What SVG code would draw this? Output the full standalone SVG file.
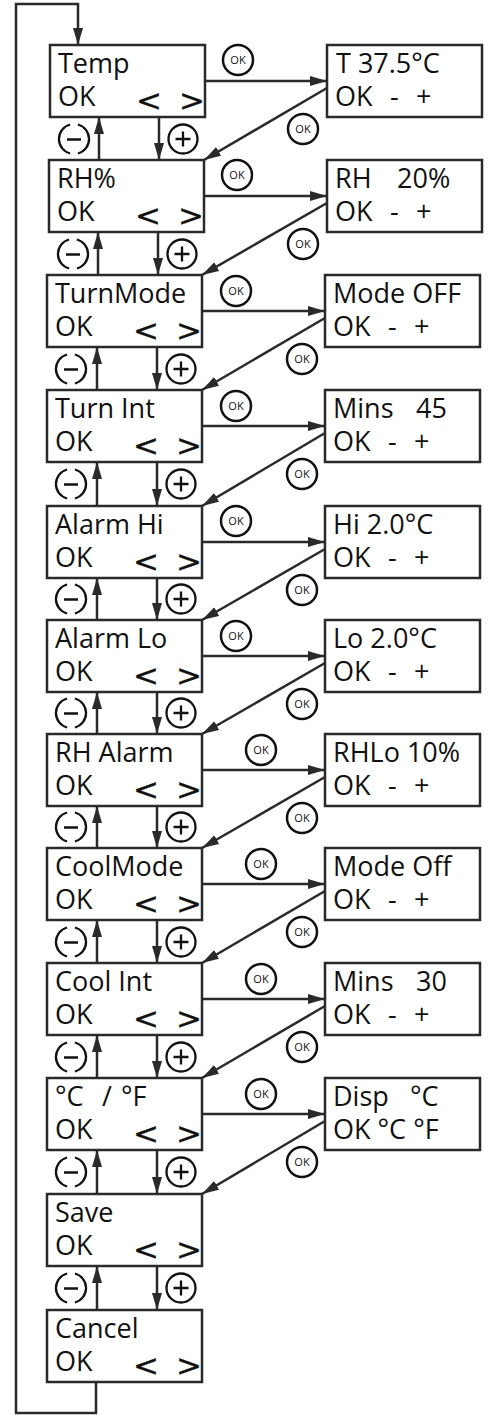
<svg xmlns="http://www.w3.org/2000/svg" xmlns:xlink="http://www.w3.org/1999/xlink" width="500" height="1415" viewBox="0 0 500 1415">
<style>
.box{fill:#fff;stroke:#2a2a2a;stroke-width:2.5}
.ln{fill:none;stroke:#2a2a2a;stroke-width:2.5}
.t{font-family:"Open Sans","Liberation Sans",sans-serif;font-size:27px;fill:#111}
.ar{font-family:"DejaVu Sans","Liberation Sans",sans-serif;font-size:31px;fill:#111;stroke:#111;stroke-width:0.3}
.okc{fill:#fff;stroke:#111;stroke-width:2.5}
.okt{font-family:"Open Sans","Liberation Sans",sans-serif;font-size:11px;fill:#111;text-anchor:middle}
.sym{fill:none;stroke:#111;stroke-width:2.3}
</style>
<defs>
<marker id="ah" markerUnits="userSpaceOnUse" markerWidth="18" markerHeight="11" refX="17" refY="5.5" orient="auto">
<path d="M0,0.5 L17,5.5 L0,10.5 z" fill="#2a2a2a"/>
</marker>
<g id="minus" class="sym"><path d="M-3.9,-14.5 A15,15 0 0 0 -3.9,14.5 M3.9,-14.5 A15,15 0 0 1 3.9,14.5 M-7,0.5 H7"/></g>
<g id="plus" class="sym"><circle cx="0" cy="0" r="14.5"/><path d="M-7.5,0 H7.5 M0,-7.5 V7.5"/></g>
</defs>
<rect width="500" height="1415" fill="#fff"/>

<g id="connectors" class="ln">
<path d="M96,1382 V1413 H16 V4 H78 V45" marker-end="url(#ah)"/>
<line x1="205" y1="81" x2="327" y2="81" marker-end="url(#ah)"/>
<line x1="204" y1="196" x2="327" y2="196" marker-end="url(#ah)"/>
<line x1="202" y1="311" x2="325" y2="311" marker-end="url(#ah)"/>
<line x1="202" y1="426" x2="325" y2="426" marker-end="url(#ah)"/>
<line x1="202" y1="542" x2="325" y2="542" marker-end="url(#ah)"/>
<line x1="202" y1="656" x2="325" y2="656" marker-end="url(#ah)"/>
<line x1="202" y1="770" x2="325" y2="770" marker-end="url(#ah)"/>
<line x1="202" y1="884" x2="325" y2="884" marker-end="url(#ah)"/>
<line x1="202" y1="999" x2="325" y2="999" marker-end="url(#ah)"/>
<line x1="202" y1="1114" x2="325" y2="1114" marker-end="url(#ah)"/>
<line x1="327" y1="88" x2="204" y2="160" marker-end="url(#ah)"/>
<line x1="327" y1="203" x2="202" y2="275" marker-end="url(#ah)"/>
<line x1="325" y1="318" x2="202" y2="390" marker-end="url(#ah)"/>
<line x1="325" y1="433" x2="202" y2="506" marker-end="url(#ah)"/>
<line x1="325" y1="549" x2="202" y2="620" marker-end="url(#ah)"/>
<line x1="325" y1="663" x2="202" y2="734" marker-end="url(#ah)"/>
<line x1="325" y1="777" x2="202" y2="848" marker-end="url(#ah)"/>
<line x1="325" y1="891" x2="202" y2="963" marker-end="url(#ah)"/>
<line x1="325" y1="1006" x2="202" y2="1078" marker-end="url(#ah)"/>
<line x1="325" y1="1121" x2="202" y2="1194" marker-end="url(#ah)"/>
<line x1="99" y1="160" x2="99" y2="117" marker-end="url(#ah)"/>
<line x1="159" y1="117" x2="159" y2="160" marker-end="url(#ah)"/>
<line x1="98" y1="275" x2="98" y2="232" marker-end="url(#ah)"/>
<line x1="158" y1="232" x2="158" y2="275" marker-end="url(#ah)"/>
<line x1="97" y1="390" x2="97" y2="347" marker-end="url(#ah)"/>
<line x1="157" y1="347" x2="157" y2="390" marker-end="url(#ah)"/>
<line x1="97" y1="506" x2="97" y2="462" marker-end="url(#ah)"/>
<line x1="157" y1="462" x2="157" y2="506" marker-end="url(#ah)"/>
<line x1="97" y1="620" x2="97" y2="578" marker-end="url(#ah)"/>
<line x1="157" y1="578" x2="157" y2="620" marker-end="url(#ah)"/>
<line x1="97" y1="734" x2="97" y2="692" marker-end="url(#ah)"/>
<line x1="157" y1="692" x2="157" y2="734" marker-end="url(#ah)"/>
<line x1="97" y1="848" x2="97" y2="806" marker-end="url(#ah)"/>
<line x1="157" y1="806" x2="157" y2="848" marker-end="url(#ah)"/>
<line x1="97" y1="963" x2="97" y2="920" marker-end="url(#ah)"/>
<line x1="157" y1="920" x2="157" y2="963" marker-end="url(#ah)"/>
<line x1="97" y1="1078" x2="97" y2="1035" marker-end="url(#ah)"/>
<line x1="157" y1="1035" x2="157" y2="1078" marker-end="url(#ah)"/>
<line x1="97" y1="1194" x2="97" y2="1150" marker-end="url(#ah)"/>
<line x1="157" y1="1150" x2="157" y2="1194" marker-end="url(#ah)"/>
<line x1="97" y1="1310" x2="97" y2="1266" marker-end="url(#ah)"/>
<line x1="157" y1="1266" x2="157" y2="1310" marker-end="url(#ah)"/>
</g>

<g id="pm-badges">
<use xlink:href="#minus" x="74" y="139"/><use xlink:href="#plus" x="183" y="139"/>
<use xlink:href="#minus" x="73" y="254"/><use xlink:href="#plus" x="182" y="254"/>
<use xlink:href="#minus" x="71" y="369"/><use xlink:href="#plus" x="181" y="369"/>
<use xlink:href="#minus" x="71" y="484"/><use xlink:href="#plus" x="181" y="484"/>
<use xlink:href="#minus" x="71" y="599"/><use xlink:href="#plus" x="181" y="599"/>
<use xlink:href="#minus" x="71" y="713"/><use xlink:href="#plus" x="181" y="713"/>
<use xlink:href="#minus" x="71" y="827"/><use xlink:href="#plus" x="181" y="827"/>
<use xlink:href="#minus" x="71" y="942"/><use xlink:href="#plus" x="181" y="942"/>
<use xlink:href="#minus" x="71" y="1057"/><use xlink:href="#plus" x="181" y="1057"/>
<use xlink:href="#minus" x="71" y="1172"/><use xlink:href="#plus" x="181" y="1172"/>
<use xlink:href="#minus" x="71" y="1288"/><use xlink:href="#plus" x="181" y="1288"/>
</g>

<g id="ok-badges">
<circle class="okc" cx="238" cy="60" r="15"/><text class="okt" x="238" y="64">OK</text>
<circle class="okc" cx="237" cy="175" r="15"/><text class="okt" x="237" y="179">OK</text>
<circle class="okc" cx="236" cy="291" r="15"/><text class="okt" x="236" y="295">OK</text>
<circle class="okc" cx="236" cy="406" r="15"/><text class="okt" x="236" y="410">OK</text>
<circle class="okc" cx="236" cy="521" r="15"/><text class="okt" x="236" y="525">OK</text>
<circle class="okc" cx="236" cy="636" r="15"/><text class="okt" x="236" y="640">OK</text>
<circle class="okc" cx="261" cy="750" r="15"/><text class="okt" x="261" y="754">OK</text>
<circle class="okc" cx="261" cy="864" r="15"/><text class="okt" x="261" y="868">OK</text>
<circle class="okc" cx="261" cy="979" r="15"/><text class="okt" x="261" y="983">OK</text>
<circle class="okc" cx="261" cy="1094" r="15"/><text class="okt" x="261" y="1098">OK</text>
<circle class="okc" cx="303" cy="129" r="15"/><text class="okt" x="303" y="133">OK</text>
<circle class="okc" cx="303" cy="244" r="15"/><text class="okt" x="303" y="248">OK</text>
<circle class="okc" cx="302" cy="359" r="15"/><text class="okt" x="302" y="363">OK</text>
<circle class="okc" cx="302" cy="474" r="15"/><text class="okt" x="302" y="478">OK</text>
<circle class="okc" cx="302" cy="590" r="15"/><text class="okt" x="302" y="594">OK</text>
<circle class="okc" cx="302" cy="704" r="15"/><text class="okt" x="302" y="708">OK</text>
<circle class="okc" cx="302" cy="818" r="15"/><text class="okt" x="302" y="822">OK</text>
<circle class="okc" cx="302" cy="932" r="15"/><text class="okt" x="302" y="936">OK</text>
<circle class="okc" cx="302" cy="1047" r="15"/><text class="okt" x="302" y="1051">OK</text>
<circle class="okc" cx="302" cy="1162" r="15"/><text class="okt" x="302" y="1166">OK</text>
</g>

<g id="n-temp"><rect class="box" x="50" y="45" width="155" height="72"/><text class="t" x="58" y="73">Temp</text><text class="t" x="58" y="106">OK</text><text class="ar" x="136" y="111">&lt;</text><text class="ar" x="179" y="111">&gt;</text></g>
<g id="n-rh"><rect class="box" x="49" y="160" width="155" height="72"/><text class="t" x="57" y="188">RH%</text><text class="t" x="57" y="221">OK</text><text class="ar" x="135" y="226">&lt;</text><text class="ar" x="178" y="226">&gt;</text></g>
<g id="n-turnmode"><rect class="box" x="47" y="275" width="155" height="72"/><text class="t" x="55" y="303">TurnMode</text><text class="t" x="55" y="336">OK</text><text class="ar" x="133" y="341">&lt;</text><text class="ar" x="176" y="341">&gt;</text></g>
<g id="n-turnint"><rect class="box" x="47" y="390" width="155" height="72"/><text class="t" x="55" y="418">Turn Int</text><text class="t" x="55" y="451">OK</text><text class="ar" x="133" y="456">&lt;</text><text class="ar" x="176" y="456">&gt;</text></g>
<g id="n-alarmhi"><rect class="box" x="47" y="506" width="155" height="72"/><text class="t" x="55" y="534">Alarm Hi</text><text class="t" x="55" y="567">OK</text><text class="ar" x="133" y="572">&lt;</text><text class="ar" x="176" y="572">&gt;</text></g>
<g id="n-alarmlo"><rect class="box" x="47" y="620" width="155" height="72"/><text class="t" x="55" y="648">Alarm Lo</text><text class="t" x="55" y="681">OK</text><text class="ar" x="133" y="686">&lt;</text><text class="ar" x="176" y="686">&gt;</text></g>
<g id="n-rhalarm"><rect class="box" x="47" y="734" width="155" height="72"/><text class="t" x="55" y="762">RH Alarm</text><text class="t" x="55" y="795">OK</text><text class="ar" x="133" y="800">&lt;</text><text class="ar" x="176" y="800">&gt;</text></g>
<g id="n-coolmode"><rect class="box" x="47" y="848" width="155" height="72"/><text class="t" x="55" y="876">CoolMode</text><text class="t" x="55" y="909">OK</text><text class="ar" x="133" y="914">&lt;</text><text class="ar" x="176" y="914">&gt;</text></g>
<g id="n-coolint"><rect class="box" x="47" y="963" width="155" height="72"/><text class="t" x="55" y="991">Cool Int</text><text class="t" x="55" y="1024">OK</text><text class="ar" x="133" y="1029">&lt;</text><text class="ar" x="176" y="1029">&gt;</text></g>
<g id="n-unit"><rect class="box" x="47" y="1078" width="155" height="72"/><text class="t" y="1106"><tspan x="55">°C</tspan><tspan x="102">/</tspan><tspan x="121">°F</tspan></text><text class="t" x="55" y="1139">OK</text><text class="ar" x="133" y="1144">&lt;</text><text class="ar" x="176" y="1144">&gt;</text></g>
<g id="n-save"><rect class="box" x="47" y="1194" width="155" height="72"/><text class="t" x="55" y="1222">Save</text><text class="t" x="55" y="1255">OK</text><text class="ar" x="133" y="1260">&lt;</text><text class="ar" x="176" y="1260">&gt;</text></g>
<g id="n-cancel"><rect class="box" x="47" y="1310" width="155" height="72"/><text class="t" x="55" y="1338">Cancel</text><text class="t" x="55" y="1371">OK</text><text class="ar" x="133" y="1376">&lt;</text><text class="ar" x="176" y="1376">&gt;</text></g>

<g id="r-temp"><rect class="box" x="327" y="45" width="155" height="72"/><text class="t" x="336" y="73">T 37.5°C</text><text class="t" y="106"><tspan x="335">OK</tspan><tspan x="390">-</tspan><tspan x="416">+</tspan></text></g>
<g id="r-rh"><rect class="box" x="327" y="160" width="155" height="72"/><text class="t" y="188"><tspan x="335">RH</tspan><tspan x="397">20%</tspan></text><text class="t" y="221"><tspan x="335">OK</tspan><tspan x="390">-</tspan><tspan x="416">+</tspan></text></g>
<g id="r-turnmode"><rect class="box" x="325" y="275" width="155" height="72"/><text class="t" x="333" y="303">Mode OFF</text><text class="t" y="336"><tspan x="333">OK</tspan><tspan x="388">-</tspan><tspan x="414">+</tspan></text></g>
<g id="r-turnint"><rect class="box" x="325" y="390" width="155" height="72"/><text class="t" y="418"><tspan x="333">Mins</tspan><tspan x="416">45</tspan></text><text class="t" y="451"><tspan x="333">OK</tspan><tspan x="388">-</tspan><tspan x="414">+</tspan></text></g>
<g id="r-alarmhi"><rect class="box" x="325" y="506" width="155" height="72"/><text class="t" x="333" y="534">Hi 2.0°C</text><text class="t" y="567"><tspan x="333">OK</tspan><tspan x="388">-</tspan><tspan x="414">+</tspan></text></g>
<g id="r-alarmlo"><rect class="box" x="325" y="620" width="155" height="72"/><text class="t" x="333" y="648">Lo 2.0°C</text><text class="t" y="681"><tspan x="333">OK</tspan><tspan x="388">-</tspan><tspan x="414">+</tspan></text></g>
<g id="r-rhalarm"><rect class="box" x="325" y="734" width="155" height="72"/><text class="t" x="333" y="762">RHLo 10%</text><text class="t" y="795"><tspan x="333">OK</tspan><tspan x="388">-</tspan><tspan x="414">+</tspan></text></g>
<g id="r-coolmode"><rect class="box" x="325" y="848" width="155" height="72"/><text class="t" x="333" y="876">Mode Off</text><text class="t" y="909"><tspan x="333">OK</tspan><tspan x="388">-</tspan><tspan x="414">+</tspan></text></g>
<g id="r-coolint"><rect class="box" x="325" y="963" width="155" height="72"/><text class="t" y="991"><tspan x="333">Mins</tspan><tspan x="416">30</tspan></text><text class="t" y="1024"><tspan x="333">OK</tspan><tspan x="388">-</tspan><tspan x="414">+</tspan></text></g>
<g id="r-unit"><rect class="box" x="325" y="1078" width="155" height="72"/><text class="t" y="1106"><tspan x="333">Disp</tspan><tspan x="410">°C</tspan></text><text class="t" x="333" y="1139">OK °C °F</text></g>
</svg>
